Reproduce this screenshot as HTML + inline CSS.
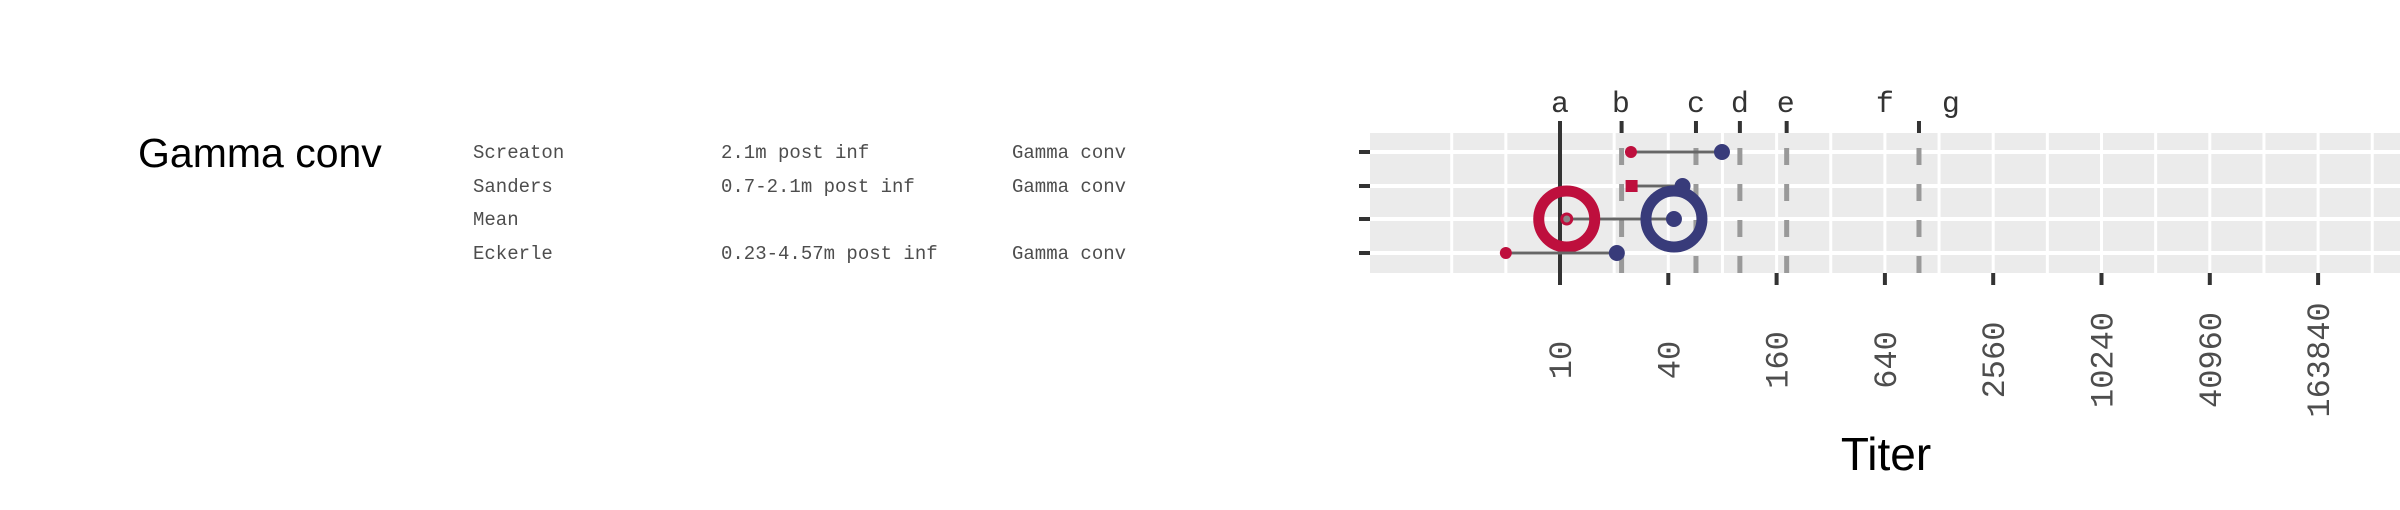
<!DOCTYPE html>
<html><head><meta charset="utf-8"><style>
html,body{margin:0;padding:0;background:#fff;width:2400px;height:510px;overflow:hidden}
svg{display:block}
.mono{font-family:"Liberation Mono",monospace}
.sans{font-family:"Liberation Sans",sans-serif}
</style></head><body>
<svg id="chart" width="2400" height="510" viewBox="0 0 2400 510"></svg>
<script>
const studies = ["Screaton","Sanders","Mean","Eckerle"];
const timepoints = ["2.1m post inf","0.7-2.1m post inf","","0.23-4.57m post inf"];
const groups = ["Gamma conv","Gamma conv","","Gamma conv"];
const redValues = [24.8, 25, 10.9, 5];
const blueValues = [79.5, 48, 43, 20.7];
const redShapes = ["circle","square","mean","circle"];
const tickValues = [10,40,160,640,2560,10240,40960,163840];
const tickLabels = ["10","40","160","640","2560","10240","40960","163840"];
const refLetters = ["a","b","c","d","e","f","g"];
const refLabelValues = [10, 21.8, 57, 100, 180, 640, 1490];
const refLineValues = [10, 22, 57, 100, 182, 990];

const NS = "http://www.w3.org/2000/svg";
const svg = document.getElementById("chart");
const X0 = 1560, PX = 54.15;
function x(v){ return X0 + PX*Math.log2(v/10); }
const rowY = [152, 186, 219, 253];
function y(i){ return rowY[i]; }
const PL = 1370, PR = 2400, PT = 133, PB = 273;
const RED = "#BE0F3D", BLUE = "#383B7A";
function mk(tag, attrs, parent){
  const el = document.createElementNS(NS, tag);
  for (const k in attrs) el.setAttribute(k, attrs[k]);
  (parent||svg).appendChild(el);
  return el;
}
let el;
el = mk("rect",{x:PL,y:PT,width:PR-PL,height:PB-PT,fill:"#EBEBEB"});


for (let v = 2.5; x(v) < PR; v *= 2) {
  el = mk("line",{x1:x(v),x2:x(v),y1:PT,y2:PB,stroke:"#fff","stroke-width":3});
  
  
}
studies.forEach((s,i)=>{
  el = mk("line",{x1:PL,x2:PR,y1:y(i),y2:y(i),stroke:"#fff","stroke-width":4});
  
  
  el = mk("line",{x1:1359,x2:1370,y1:y(i),y2:y(i),stroke:"#333","stroke-width":4});
  
  
});
refLineValues.forEach((v,i)=>{
  const xx = x(v);
  el = mk("line",{x1:xx,x2:xx,y1:121,y2:PT,stroke:"#333","stroke-width":4});
  
  
  if (i===0) {
    el = mk("line",{x1:xx,x2:xx,y1:PT,y2:PB,stroke:"#333","stroke-width":4});
  } else {
    el = mk("line",{x1:xx,x2:xx,y1:148,y2:PB,stroke:"#999","stroke-width":5,"stroke-dasharray":"17 19"});
  }
  
  
});
refLetters.forEach((l,i)=>{
  el = mk("text",{x:x(refLabelValues[i]),y:112,"text-anchor":"middle","font-size":30,fill:"#333",class:"mono"});
  el.textContent = l;
  
  
});
tickValues.forEach((v,i)=>{
  const xx = x(v);
  el = mk("line",{x1:xx,x2:xx,y1:PB,y2:285,stroke:"#333","stroke-width":4});
  
  
  el = mk("text",{x:0,y:0,"text-anchor":"middle","font-size":32,fill:"#4d4d4d",class:"mono",
    transform:`translate(${xx+11},360) rotate(-90)`});
  el.textContent = tickLabels[i];
  
  
});
studies.forEach((s,i)=>{
  const yy = y(i), xr = x(redValues[i]), xb = x(blueValues[i]);
  el = mk("line",{x1:xr,x2:xb,y1:yy,y2:yy,stroke:"#666","stroke-width":3});
  
  
  if (redShapes[i]==="mean") {
    el = mk("circle",{cx:xr,cy:yy,r:28,fill:"none",stroke:RED,"stroke-width":11});
    
    
    el = mk("circle",{cx:xb,cy:yy,r:28,fill:"none",stroke:BLUE,"stroke-width":11});
    
    
    el = mk("circle",{cx:xr,cy:yy,r:5,fill:"#888",stroke:RED,"stroke-width":3});
    
    
    el = mk("circle",{cx:xb,cy:yy,r:8,fill:BLUE});
    
    
  } else {
    if (redShapes[i]==="square") {
      el = mk("rect",{x:xr-6,y:yy-6,width:12,height:12,fill:RED});
    } else {
      el = mk("circle",{cx:xr,cy:yy,r:6,fill:RED});
    }
    
    
    el = mk("circle",{cx:xb,cy:yy,r:8,fill:BLUE});
    
    
  }
});
el = mk("text",{x:138,y:167,"font-size":41,fill:"#000",class:"sans"});
el.textContent = "Gamma conv";


studies.forEach((s,i)=>{
  const yy = y(i)+6;
  el = mk("text",{x:473,y:yy,"font-size":19,fill:"#4d4d4d",class:"mono"});
  el.textContent = s;
  
  
  el = mk("text",{x:721,y:yy,"font-size":19,fill:"#4d4d4d",class:"mono"});
  el.textContent = timepoints[i];
  
  
  el = mk("text",{x:1012,y:yy,"font-size":19,fill:"#4d4d4d",class:"mono"});
  el.textContent = groups[i];
  
  
});
el = mk("text",{x:1886,y:470,"text-anchor":"middle","font-size":46,fill:"#000",class:"sans"});
el.textContent = "Titer";


</script>
</body></html>
